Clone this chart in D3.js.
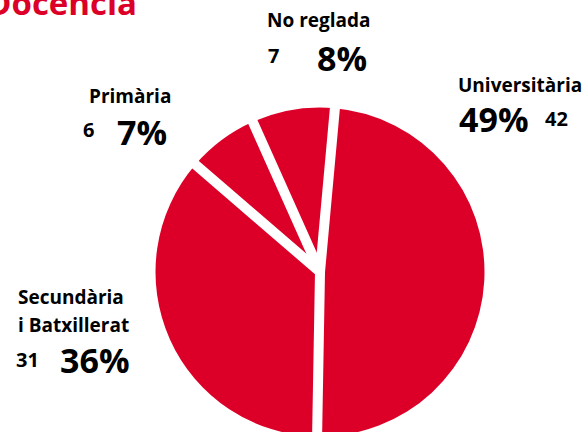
<!DOCTYPE html>
<html>
<head>
<meta charset="utf-8">
<script src="https://cdn.jsdelivr.net/npm/d3@7"></script>
<style>
  html, body { margin: 0; padding: 0; background: #fff; }
  svg { display: block; }
  text { font-family: "Open Sans", "Noto Sans", sans-serif; font-weight: 700; fill: #000; }
</style>
</head>
<body>
<svg id="chart" width="584" height="432"></svg>
<script>
// ---- data ----
const title = "Docencia";
const categories = ["Universitària", "Secundària i Batxillerat", "Primària", "No reglada"];
const labelLines = [["Universitària"], ["Secundària", "i Batxillerat"], ["Primària"], ["No reglada"]];
const counts = [42, 31, 6, 7];
const percents = ["49%", "36%", "7%", "8%"];

// ---- layout ----
const W = 584, H = 432;
const cx = 320, cy = 272, R = 164.5;
const red = "#dc0029";
const startDeg = 5.2;
// label layout: [nameX, nameBaseline, pctX, pctBaseline, countX, countBaseline]
const labelPos = [
  [458, 92, 459, 132, 545, 126],
  [18, 304, 60, 373, 16, 367],
  [89, 103, 117, 145, 83, 137],
  [267, 27, 317, 71, 268, 63]
];

const svg = d3.select("#chart");

svg.append("text")
  .attr("x", 137).attr("y", 15)
  .attr("text-anchor", "end")
  .style("font-size", "33px")
  .style("fill", red)
  .text(title);

const pie = d3.pie().sort(null)
  .startAngle(startDeg * Math.PI / 180)
  .endAngle(startDeg * Math.PI / 180 + 2 * Math.PI);
const arcs = pie(counts);
const arc = d3.arc().innerRadius(0).outerRadius(R);

const g = svg.append("g").attr("transform", `translate(${cx},${cy})`);
g.selectAll("path.slice").data(arcs).join("path")
  .attr("class", "slice")
  .attr("d", arc)
  .attr("fill", red);

// white separators along slice boundaries
g.selectAll("line.sep").data(arcs).join("line")
  .attr("class", "sep")
  .attr("x1", 0).attr("y1", 0)
  .attr("x2", d => d3.pointRadial(d.startAngle, R + 4)[0])
  .attr("y2", d => d3.pointRadial(d.startAngle, R + 4)[1])
  .attr("stroke", "#fff")
  .attr("stroke-width", 10)
  .attr("stroke-linecap", "round");

// labels
const lab = svg.append("g");
categories.forEach((c, i) => {
  const p = labelPos[i];
  const t = lab.append("text").attr("x", p[0]).attr("y", p[1]).style("font-size", "19px");
  labelLines[i].forEach((ln, j) => {
    t.append("tspan").attr("x", p[0]).attr("dy", j === 0 ? 0 : 28).text(ln);
  });
  lab.append("text").attr("x", p[2]).attr("y", p[3]).style("font-size", "34px").text(percents[i]);
  lab.append("text").attr("x", p[4]).attr("y", p[5]).style("font-size", "20px").text(counts[i]);
});
</script>
</body>
</html>
